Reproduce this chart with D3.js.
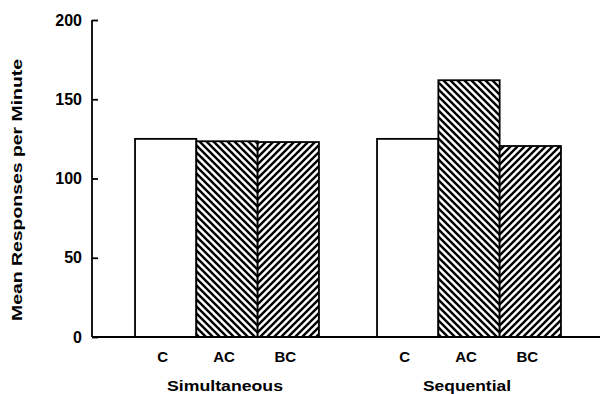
<!DOCTYPE html>
<html>
<head>
<meta charset="utf-8">
<script src="https://cdn.jsdelivr.net/npm/d3@7"></script>
<style>
  body { margin: 0; background: #fff; }
  text { font-family: "Liberation Sans", Arial, sans-serif; font-weight: bold; fill: #000; }
</style>
</head>
<body>
<svg id="chart" width="600" height="394"></svg>
<script>
const groups = ["Simultaneous", "Sequential"];
const conditions = ["C", "AC", "BC"];
const simultaneousValues = [125, 123.5, 123];
const sequentialValues = [125, 162, 120.5];
const yTicks = [0, 50, 100, 150, 200];

const seriesByGroup = {
    Simultaneous: simultaneousValues,
    Sequential: sequentialValues
};

const svg = d3.select('#chart');
const width = +svg.attr('width');

const y = d3.scaleLinear().domain([0, 200]).range([337, 20]);
const x0 = d3.scaleBand().domain(groups).range([106, 590]).paddingInner(0.24).paddingOuter(0.12);
const x1 = d3.scaleBand().domain(conditions).range([0, x0.bandwidth()]).padding(0);

// hatch patterns
const defs = svg.append('defs');
const hatch = (id, dir) => {
    const s = 7;
    const p = defs.append('pattern')
        .attr('id', id)
        .attr('patternUnits', 'userSpaceOnUse')
        .attr('width', s).attr('height', s);
    p.append('rect').attr('width', s).attr('height', s).attr('fill', '#fff');
    const d = dir === 'back'
        ? `M0,0L${s},${s}M${-s / 2},${s / 2}L${s / 2},${s * 1.5}M${s / 2},${-s / 2}L${s * 1.5},${s / 2}`
        : `M0,${s}L${s},0M${-s / 2},${s / 2}L${s / 2},${-s / 2}M${s / 2},${s * 1.5}L${s * 1.5},${s / 2}`;
    p.append('path').attr('d', d).attr('stroke', '#000').attr('stroke-width', 2.4);
};
hatch('hatchAC', 'back');
hatch('hatchBC', 'fwd');

const fillFor = c => c === 'C' ? '#fff' : c === 'AC' ? 'url(#hatchAC)' : 'url(#hatchBC)';

// bars
const g = svg.selectAll('.group')
    .data(groups)
    .enter().append('g')
    .attr('class', 'group')
    .attr('transform', d => 'translate(' + x0(d) + ',0)');

g.selectAll('rect')
    .data(grp => conditions.map((c, i) => ({ c, v: seriesByGroup[grp][i] })))
    .enter().append('rect')
    .attr('x', d => x1(d.c))
    .attr('y', d => y(d.v))
    .attr('width', x1.bandwidth())
    .attr('height', d => y(0) - y(d.v))
    .attr('fill', d => fillFor(d.c))
    .attr('stroke', '#000')
    .attr('stroke-width', 1.8);

// condition labels
g.selectAll('.cond')
    .data(conditions)
    .enter().append('text')
    .attr('class', 'cond')
    .attr('x', d => x1(d) + x1.bandwidth() / 2 - 3)
    .attr('y', 362)
    .attr('text-anchor', 'middle')
    .style('font-size', '15px')
    .text(d => d);

// group labels
g.append('text')
    .attr('x', x0.bandwidth() / 2 - 2)
    .attr('y', 391)
    .attr('text-anchor', 'middle')
    .style('font-size', '15px')
    .attr('textLength', d => d === 'Simultaneous' ? 116 : 88)
    .attr('lengthAdjust', 'spacingAndGlyphs')
    .text(d => d);

// y axis
const yAxis = d3.axisRight(y).tickValues(yTicks).tickSize(6).tickFormat(d3.format('d'));
const ya = svg.append('g').attr('transform', 'translate(92,0)').call(yAxis);
ya.select('.domain').remove();
ya.selectAll('line').attr('stroke', '#000').attr('stroke-width', 1.8);
ya.selectAll('text')
    .attr('x', -10)
    .attr('text-anchor', 'end')
    .style('font-size', '16px')
    .style('font-family', '"Liberation Sans", Arial, sans-serif')
    .style('font-weight', 'bold');

svg.append('line')
    .attr('x1', 92).attr('x2', 92)
    .attr('y1', y(200)).attr('y2', y(0))
    .attr('stroke', '#000').attr('stroke-width', 1.8);

// x axis baseline
svg.append('line')
    .attr('x1', 92).attr('x2', width)
    .attr('y1', y(0)).attr('y2', y(0))
    .attr('stroke', '#000').attr('stroke-width', 1.8);

// y title
svg.append('text')
    .attr('transform', 'translate(22,' + 190 + ') rotate(-90)')
    .attr('text-anchor', 'middle')
    .style('font-size', '14px')
    .attr('textLength', 262)
    .attr('lengthAdjust', 'spacingAndGlyphs')
    .text('Mean Responses per Minute');
</script>
</body>
</html>
